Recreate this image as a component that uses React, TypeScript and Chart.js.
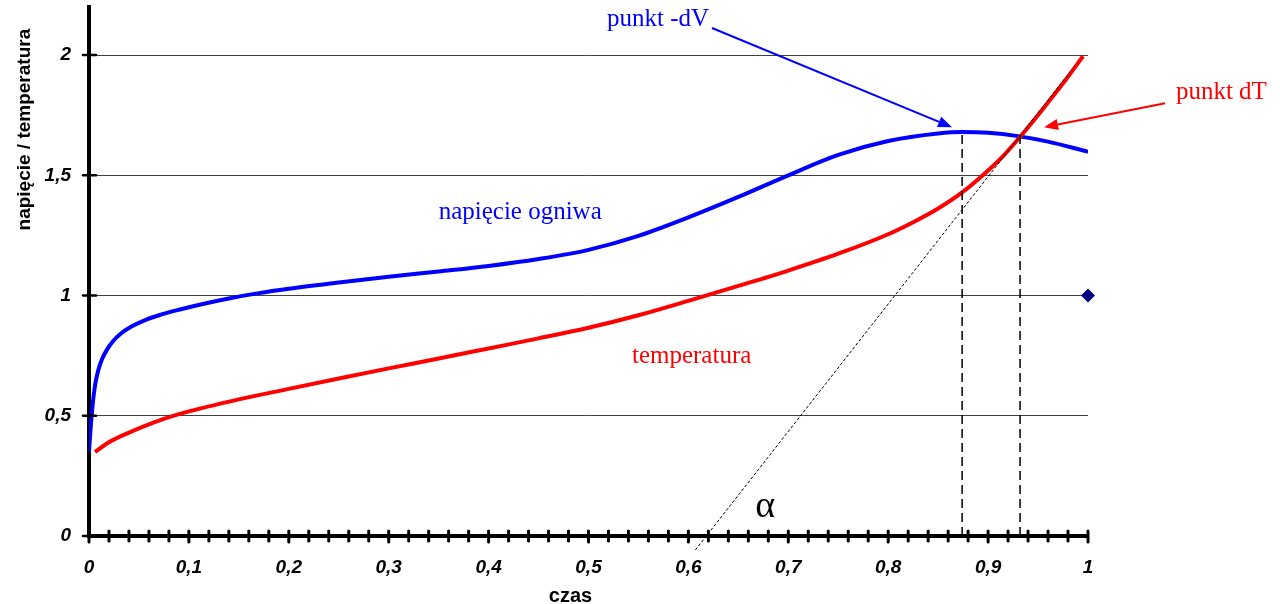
import React, { useEffect, useRef } from "react";
import { Chart, registerables } from "chart.js";

Chart.register(...registerables);

// ---- data ----
const VOLTAGE_X = [0, 0.002, 0.004, 0.006, 0.009, 0.013, 0.018, 0.024, 0.032, 0.042, 0.055, 0.07, 0.09, 0.115, 0.14, 0.17, 0.2, 0.25, 0.3, 0.35, 0.4, 0.45, 0.5, 0.55, 0.6, 0.65, 0.7, 0.75, 0.8, 0.85, 0.874, 0.9, 0.93, 0.96, 1.0];
const VOLTAGE_Y = [0.35, 0.47, 0.56, 0.625, 0.685, 0.735, 0.775, 0.81, 0.842, 0.87, 0.896, 0.918, 0.941, 0.966, 0.988, 1.01, 1.028, 1.054, 1.078, 1.1, 1.123, 1.152, 1.19, 1.248, 1.325, 1.41, 1.5, 1.585, 1.643, 1.674, 1.68, 1.677, 1.663, 1.64, 1.598];

const TEMP_X = [0.006, 0.02, 0.04, 0.07, 0.1, 0.15, 0.2, 0.25, 0.3, 0.35, 0.4, 0.45, 0.5, 0.55, 0.6, 0.65, 0.7, 0.75, 0.8, 0.825, 0.85, 0.875, 0.9, 0.915, 0.93, 0.945, 0.96, 0.98, 0.995];
const TEMP_Y = [0.35, 0.39, 0.43, 0.48, 0.518, 0.568, 0.612, 0.655, 0.697, 0.738, 0.78, 0.822, 0.866, 0.918, 0.978, 1.04, 1.104, 1.174, 1.255, 1.305, 1.362, 1.432, 1.52, 1.58, 1.65, 1.725, 1.803, 1.91, 1.995];

const TANGENT_X = [0.607, 0.984];
const TANGENT_Y = [-0.058, 1.94];

const DV_X = [0.874, 0.874];
const DV_Y = [0, 1.68];
const DT_X = [0.932, 0.932];
const DT_Y = [0, 1.68];

const MARKER_X = [1];
const MARKER_Y = [1];

const Y_TICKS = [0, 0.5, 1, 1.5, 2];
const Y_TICK_LABELS = ["0", "0,5", "1", "1,5", "2"];
const X_TICK_LABELS = ["0", "0,1", "0,2", "0,3", "0,4", "0,5", "0,6", "0,7", "0,8", "0,9", "1"];

const X_TITLE = "czas";
const Y_TITLE = "napięcie / temperatura";

// annotations (data coordinates)
const LABELS = [
  { text: "punkt -dV", x: 0.5185, y: 2.121, color: "#0000ff", size: 25 },
  { text: "napięcie ogniwa", x: 0.35, y: 1.317, color: "#0000ff", size: 25 },
  { text: "temperatura", x: 0.5435, y: 0.721, color: "#ff0000", size: 25 },
  { text: "punkt dT", x: 1.088, y: 1.817, color: "#ff0000", size: 25 },
  { text: "α", x: 0.667, y: 0.079, color: "#000000", size: 38 },
];
const ARROWS = [
  { from: [0.6236, 2.1125], to: [0.8639, 1.70], color: "#0000ff" },
  { from: [1.0771, 1.80], to: [0.956, 1.70], color: "#ff0000" },
];

const zip = (xs: number[], ys: number[]) => xs.map((x, i) => ({ x, y: ys[i] }));

const SANS = "'Liberation Sans', Arial, sans-serif";
const SERIF = "'Liberation Serif', 'Times New Roman', serif";

const overlayPlugin = {
  id: "overlay",
  afterDraw(chart: any) {
    const ctx = chart.ctx;
    const xs = chart.scales.x;
    const ys = chart.scales.y;
    const ca = chart.chartArea;
    ctx.save();
    // tick marks crossing the axes
    ctx.strokeStyle = "#000";
    ctx.lineWidth = 3;
    ctx.lineCap = "round";
    xs.ticks.forEach((t: any) => {
      const px = xs.getPixelForValue(t.value);
      const major = Math.abs(t.value * 10 - Math.round(t.value * 10)) < 1e-6;
      ctx.beginPath();
      ctx.moveTo(px, ca.bottom - 5);
      ctx.lineTo(px, ca.bottom + (major ? 6 : 5));
      ctx.stroke();
    });
    ctx.lineWidth = 2.5;
    ys.ticks.forEach((t: any) => {
      const py = ys.getPixelForValue(t.value);
      ctx.beginPath();
      ctx.moveTo(ca.left - 6, py);
      ctx.lineTo(ca.left + 7, py);
      ctx.stroke();
    });
    // axis titles
    ctx.fillStyle = "#000";
    ctx.font = `bold 20px ${SANS}`;
    ctx.textAlign = "center";
    ctx.textBaseline = "middle";
    ctx.fillText(X_TITLE, xs.getPixelForValue(0.482), 596);
    ctx.save();
    ctx.translate(25, ys.getPixelForValue(1.69));
    ctx.rotate(-Math.PI / 2);
    ctx.font = `bold 19px ${SANS}`;
    ctx.fillText(Y_TITLE, 0, 0);
    ctx.restore();
    // labels
    ctx.textAlign = "left";
    ctx.textBaseline = "alphabetic";
    LABELS.forEach((l) => {
      ctx.fillStyle = l.color;
      ctx.font = `${l.size}px ${SERIF}`;
      ctx.fillText(l.text, xs.getPixelForValue(l.x), ys.getPixelForValue(l.y));
    });
    // arrows
    ARROWS.forEach((a) => {
      const x1 = xs.getPixelForValue(a.from[0]);
      const y1 = ys.getPixelForValue(a.from[1]);
      const x2 = xs.getPixelForValue(a.to[0]);
      const y2 = ys.getPixelForValue(a.to[1]);
      const ang = Math.atan2(y2 - y1, x2 - x1);
      const len = 14;
      const half = 5.5;
      const bx = x2 - len * Math.cos(ang);
      const by = y2 - len * Math.sin(ang);
      ctx.strokeStyle = a.color;
      ctx.fillStyle = a.color;
      ctx.lineWidth = 2;
      ctx.lineCap = "butt";
      ctx.beginPath();
      ctx.moveTo(x1, y1);
      ctx.lineTo(bx, by);
      ctx.stroke();
      ctx.beginPath();
      ctx.moveTo(x2, y2);
      ctx.lineTo(bx + half * Math.sin(ang), by - half * Math.cos(ang));
      ctx.lineTo(bx - half * Math.sin(ang), by + half * Math.cos(ang));
      ctx.closePath();
      ctx.fill();
    });
    ctx.restore();
  },
};

export default function App() {
  const ref = useRef<HTMLCanvasElement | null>(null);
  useEffect(() => {
    if (!ref.current) return;
    const lineBase = { showLine: true, pointRadius: 0, pointHoverRadius: 0, fill: false };
    const chart = new Chart(ref.current, {
      type: "scatter",
      data: {
        datasets: [
          { ...lineBase, data: zip(TANGENT_X, TANGENT_Y), borderColor: "#000", borderWidth: 1, borderDash: [3, 2], clip: false } as any,
          { ...lineBase, data: zip(DV_X, DV_Y), borderColor: "#000", borderWidth: 1.5, borderDash: [9, 5] } as any,
          { ...lineBase, data: zip(DT_X, DT_Y), borderColor: "#000", borderWidth: 1.5, borderDash: [9, 5] } as any,
          { ...lineBase, data: zip(TEMP_X, TEMP_Y), borderColor: "#ff0000", borderWidth: 4, cubicInterpolationMode: "monotone" } as any,
          { ...lineBase, data: zip(VOLTAGE_X, VOLTAGE_Y), borderColor: "#0000ff", borderWidth: 4, cubicInterpolationMode: "monotone" } as any,
          { data: zip(MARKER_X, MARKER_Y), showLine: false, pointStyle: "rectRot", pointRadius: 7, backgroundColor: "#000080", borderColor: "#000080", borderWidth: 0, clip: false } as any,
        ],
      },
      options: {
        animation: false,
        responsive: false,
        events: [],
        layout: { padding: { left: 0, top: 7, right: 192, bottom: 0 } },
        plugins: { legend: { display: false }, tooltip: { enabled: false }, title: { display: false } },
        scales: {
          x: {
            type: "linear",
            min: 0,
            max: 1,
            afterFit: (s: any) => { s.height = 68; s.paddingLeft = 0; s.paddingRight = 0; },
            grid: { display: false, drawTicks: false },
            border: { display: true, color: "#000", width: 4 },
            ticks: {
              stepSize: 0.02,
              autoSkip: false,
              maxRotation: 0,
              padding: 20,
              color: "#000",
              font: { family: SANS, size: 19, weight: "bold", style: "italic" },
              callback: (v: any) => {
                const n = Number(v) * 10;
                return Math.abs(n - Math.round(n)) < 1e-6 ? X_TICK_LABELS[Math.round(n)] : "";
              },
            },
          },
          y: {
            type: "linear",
            min: 0,
            max: 2.2,
            afterFit: (s: any) => { s.width = 89; s.paddingTop = 0; s.paddingBottom = 0; },
            afterBuildTicks: (s: any) => { s.ticks = Y_TICKS.map((value) => ({ value })); },
            grid: { color: "#404040", lineWidth: 1, drawTicks: false },
            border: { display: true, color: "#000", width: 4 },
            ticks: {
              padding: 18,
              color: "#000",
              font: { family: SANS, size: 19, weight: "bold", style: "italic" },
              callback: (_v: any, i: number) => Y_TICK_LABELS[i],
            },
          },
        },
      },
      plugins: [overlayPlugin],
    });
    return () => chart.destroy();
  }, []);
  return (
    <div style={{ position: "fixed", left: 0, top: 0, width: 1280, height: 604, background: "#fff" }}>
      <canvas ref={ref} width={1280} height={604} style={{ width: 1280, height: 604, display: "block" }} />
    </div>
  );
}
